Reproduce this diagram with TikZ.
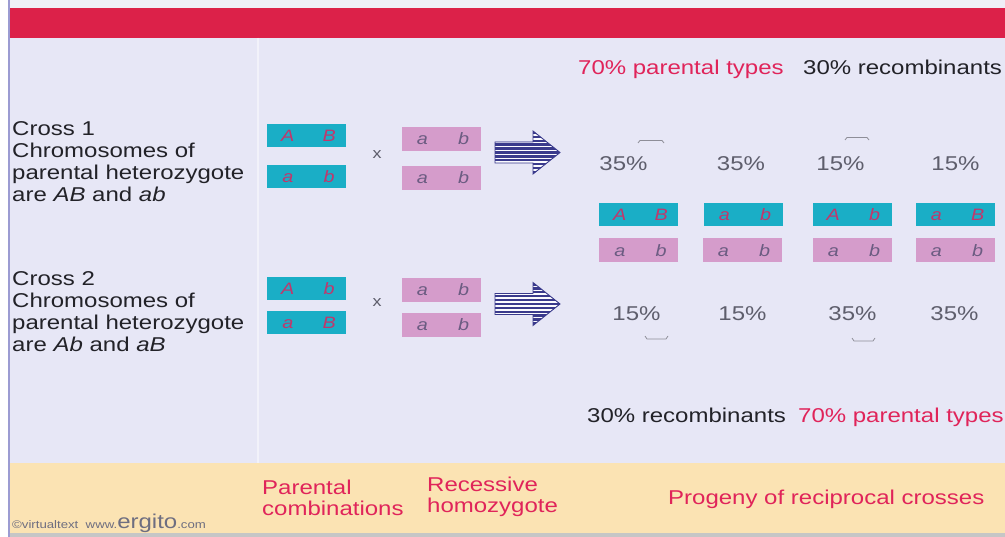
\documentclass[tikz,border=0pt]{standalone}
\usepackage{fontspec}
\setmainfont{Liberation Sans}[FakeStretch=1.2]
\definecolor{bglav}{HTML}{E7E7F6}
\definecolor{topstrip}{HTML}{EFEFF7}
\definecolor{topred}{HTML}{DC2149}
\definecolor{beige}{HTML}{FBE3B3}
\definecolor{cyanbar}{HTML}{1AAEC6}
\definecolor{pinkbar}{HTML}{D59CCB}
\definecolor{ltrred}{HTML}{C0386C}
\definecolor{ltrgrey}{HTML}{6C5C82}
\definecolor{pcgrey}{HTML}{5E5E6C}
\definecolor{labred}{HTML}{E0245A}
\definecolor{navy}{HTML}{3A3A8C}
\definecolor{edgeblue}{HTML}{9C9CD2}
\definecolor{inkdark}{HTML}{222228}
\definecolor{copygrey}{HTML}{6E6E80}

\newcommand\chromo[6]{% name, x, y, kind (cyan/pink), left allele, right allele
  \node[#4chr] (#1) at (#2,#3) {};
  \node[#4ltr] (#1l) at ([xshift=21pt,yshift=-6pt]#1.west) {#5};
  \node[#4ltr] (#1r) at ([xshift=-17pt,yshift=-6pt]#1.east) {#6};
}
\newcommand\stripedarrow[2]{% name, centre y
  \coordinate (#1) at (526,#2);
  \begin{scope}
    \path[clip] (495,#2-10.5) -- (533,#2-10.5) -- (533,#2-21.5) -- (560,#2) --
      (533,#2+21.5) -- (533,#2+10.5) -- (495,#2+10.5) -- cycle;
    \fill[arrowlight] (490,#2-23) rectangle (565,#2+23);
    \foreach \k in {-6,...,6} \draw[navy, line width=2.4pt] (490,#2+\k*3.9) -- (565,#2+\k*3.9);
  \end{scope}
  \draw[navy, line width=0.9pt, line join=miter] (495,#2-10.5) -- (533,#2-10.5) -- (533,#2-21.5) -- (560,#2) --
      (533,#2+21.5) -- (533,#2+10.5) -- (495,#2+10.5) -- cycle;
}
\colorlet{arrowlight}{white!85!bglav}

\begin{document}
\begin{tikzpicture}[x=1pt,y=-1pt,
  cyanchr/.style={fill=cyanbar, draw=none, minimum width=79pt, minimum height=23pt, inner sep=0pt},
  pinkchr/.style={fill=pinkbar, draw=none, minimum width=79pt, minimum height=24pt, inner sep=0pt},
  cyanltr/.style={text=ltrred, font=\fontsize{16.5}{18}\selectfont\itshape, inner sep=0pt, anchor=base},
  pinkltr/.style={text=ltrgrey, font=\fontsize{16.5}{18}\selectfont\itshape, inner sep=0pt, anchor=base},
  crosstext/.style={text=inkdark, font=\fontsize{20}{22}\selectfont, align=left, inner sep=0pt, anchor=north west},
  pct/.style={text=pcgrey, font=\fontsize{20}{22}\selectfont, inner sep=0pt},
  sumred/.style={text=labred, font=\fontsize{20}{22}\selectfont, inner sep=0pt, anchor=base west},
  sumdark/.style={text=inkdark, font=\fontsize{20}{22}\selectfont, inner sep=0pt, anchor=base west},
  footlab/.style={text=labred, font=\fontsize{20}{21}\selectfont, align=left, inner sep=0pt, anchor=north west},
  times/.style={text=pcgrey, font=\fontsize{15}{17}\selectfont, inner sep=0pt},
  brk/.style={draw=pcgrey!70, line width=0.8pt}
]
\useasboundingbox (0,0) rectangle (1005,537);

% panels
\fill[bglav] (0,0) rectangle (1005,537);
\fill[topstrip] (0,0) rectangle (1005,8);
\fill[white] (0,0) rectangle (8,537);
\fill[topred] (10,8) rectangle (1005,38);
\fill[beige] (10,463) rectangle (1005,533);
\fill[gray!45] (10,533) rectangle (1005,537);
\draw[edgeblue, line width=2pt] (9,0) -- (9,537);
\draw[white!45!bglav, line width=1.5pt] (258,38) -- (258,463);

% cross descriptions
\node[crosstext] (c1) at (12,121) {Cross 1\\Chromosomes of\\parental heterozygote\\are \textit{AB} and \textit{ab}};
\node[crosstext] (c2) at (12,271) {Cross 2\\Chromosomes of\\parental heterozygote\\are \textit{Ab} and \textit{aB}};

% cross 1 parents
\chromo{p1a}{306.5}{136}{cyan}{A}{B}
\chromo{p1b}{306.5}{176.5}{cyan}{a}{b}
\chromo{r1a}{441}{139}{pink}{a}{b}
\chromo{r1b}{441}{178}{pink}{a}{b}
\node[times] (x1) at (377,155) {x};
\stripedarrow{ar1}{152.5}

% cross 2 parents
\chromo{p2a}{306.5}{288.5}{cyan}{A}{b}
\chromo{p2b}{306.5}{323}{cyan}{a}{B}
\chromo{r2a}{441}{290}{pink}{a}{b}
\chromo{r2b}{441}{325}{pink}{a}{b}
\node[times] (x2) at (377,303) {x};
\stripedarrow{ar2}{304}

% progeny
\chromo{g1}{638.5}{215}{cyan}{A}{B}
\chromo{g2}{743}{215}{cyan}{a}{b}
\chromo{g3}{852}{215}{cyan}{A}{b}
\chromo{g4}{955}{215}{cyan}{a}{B}
\chromo{h1}{638.5}{250.5}{pink}{a}{b}
\chromo{h2}{742}{250.5}{pink}{a}{b}
\chromo{h3}{852}{250.5}{pink}{a}{b}
\chromo{h4}{955}{250.5}{pink}{a}{b}

% frequencies
\node[pct] (f11) at (623.5,164) {35\%};
\node[pct] (f12) at (741,164) {35\%};
\node[pct] (f13) at (840.5,164) {15\%};
\node[pct] (f14) at (955.5,164) {15\%};
\node[pct] (f21) at (636.5,313.5) {15\%};
\node[pct] (f22) at (742.5,313.5) {15\%};
\node[pct] (f23) at (852.5,313.5) {35\%};
\node[pct] (f24) at (954.5,313.5) {35\%};

% brace fragments
\draw[brk] (638,143) -- (640,140.5) -- (662,140.5) -- (664,143);
\draw[brk] (845,140) -- (847,137.5) -- (867,137.5) -- (869,140);
\draw[brk] (645,336) -- (647,339) -- (666,339) -- (668,336);
\draw[brk] (852,338) -- (854,341) -- (873,341) -- (875,338);

% totals
\node[sumred] (t1) at (578,75) {70\% parental types};
\node[sumdark] (t2) at (803,75) {30\% recombinants};
\node[sumdark] (t3) at (587,423) {30\% recombinants};
\node[sumred] (t4) at (798,423) {70\% parental types};

% footer
\node[footlab] (l1) at (262,480) {Parental\\combinations};
\node[footlab] (l2) at (427,477) {Recessive\\homozygote};
\node[footlab, anchor=base west] (l3) at (668,504) {Progeny of reciprocal crosses};
\node[text=copygrey, inner sep=0pt, anchor=base west] (cp) at (12,529)
  {\fontsize{11}{12}\selectfont\textcopyright virtualtext\ \ www.\fontsize{20}{20}\selectfont ergito\fontsize{11}{12}\selectfont .com};
\end{tikzpicture}
\end{document}
